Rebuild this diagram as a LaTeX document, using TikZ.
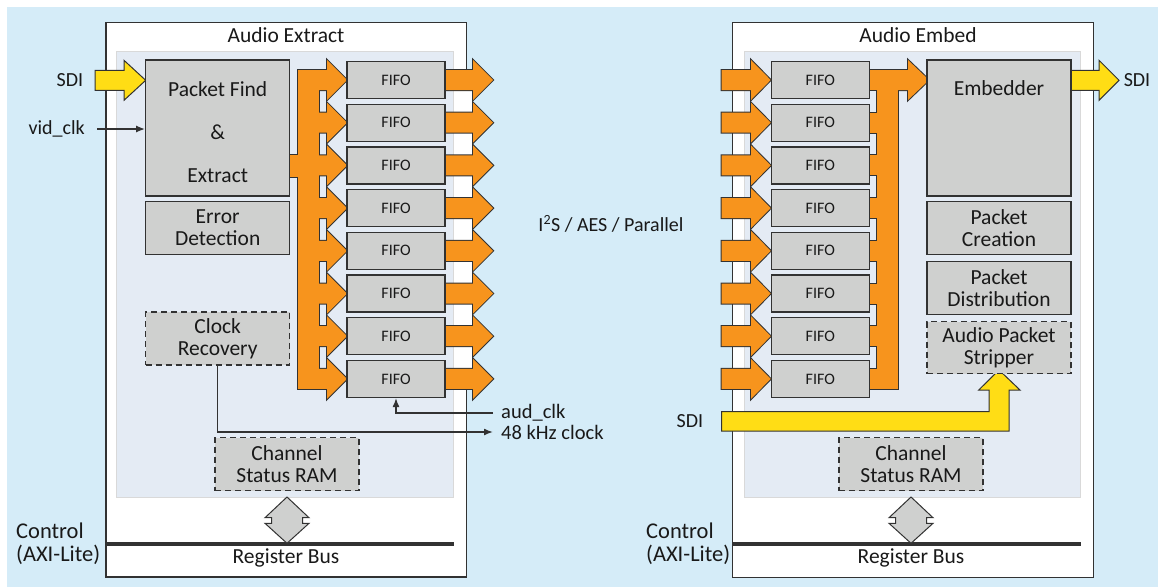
\documentclass[tikz,border=0pt]{standalone}
\usepackage{fontspec}
\setmainfont{Carlito}
\usetikzlibrary{arrows.meta,positioning}
\definecolor{bgblue}{RGB}{213,236,248}
\definecolor{panel}{RGB}{228,235,244}
\definecolor{boxgray}{RGB}{207,208,207}
\definecolor{busorange}{RGB}{247,148,29}
\definecolor{sdiyellow}{RGB}{255,221,21}
\definecolor{edge}{RGB}{50,50,50}

% wide arrow: start x, head x, tip x, centre y
\newcommand\fatarrow[4]{(#1,#4-10) -- (#2,#4-10) -- (#2,#4-20) -- (#3,#4) -- (#2,#4+20) -- (#2,#4+10) -- (#1,#4+10) -- cycle}
% double arrow down to the register bus
\newcommand\regarrow[1]{(#1,497) -- (#1+22,517.7) -- (#1+15.5,517.7) -- (#1+15.5,523.3) -- (#1+22,523.3) -- (#1,543.3) -- (#1-22,523.3) -- (#1-15.5,523.3) -- (#1-15.5,517.7) -- (#1-22,517.7) -- cycle}

\begin{document}
\begin{tikzpicture}[
  x=1pt, y=-1pt,
  blk/.style={rectangle, draw=edge, fill=boxgray, line width=1.2pt, align=center, text=black!90,
    minimum width=144pt, minimum height=53pt, inner sep=1pt, font=\fontsize{21.5}{22}\selectfont},
  dblk/.style={blk, dash pattern=on 6pt off 4pt},
  fifo/.style={blk, minimum width=98pt, minimum height=37pt, font=\fontsize{16}{17}\selectfont},
  lbl/.style={font=\fontsize{20}{23}\selectfont, text=black!90, inner sep=1pt},
  big/.style={lbl, font=\fontsize{21.5}{23}\selectfont},
  clklbl/.style={lbl, font=\fontsize{20.5}{21}\selectfont, anchor=west, inner xsep=8pt, inner ysep=0pt},
  outer/.style={draw=edge, fill=white, line width=1.5pt},
  inner/.style={draw=black!15, fill=panel, line width=1pt},
  busline/.style={draw=edge, line width=2pt, fill=busorange},
  busfill/.style={fill=busorange},
  sdi/.style={draw=edge, line width=1pt, fill=sdiyellow},
  regarr/.style={draw=edge, line width=1pt, fill=boxgray},
  clk/.style={draw=edge, line width=1.5pt, -{Latex[length=9pt,width=7pt]}},
  node distance=4pt
]
\useasboundingbox (0,0) rectangle (1158,587);
\fill[bgblue] (7,7) rectangle (1158,587);

% frames
\path[outer] (106,22.7) rectangle (466.7,577);
\path[inner] (116.7,51.7) rectangle (453,497);
\path[outer] (732.7,22.7) rectangle (1093.3,577.7);
\path[inner] (744.3,51.7) rectangle (1080,497);
\foreach \i in {0,...,6}{
  \pgfmathsetmacro\y{80+42.7*\i}
  \fill[white] (466,\y+10) rectangle (473,\y+32.7);
}

% orange busses, outline first then fill
\foreach \sty in {busline,busfill}{
  \path[\sty] (298,70) rectangle (319,389);
  \path[\sty] (289,155) rectangle (300,177);
  \path[\sty] (877,70) rectangle (898,389);
  \path[\sty] \fatarrow{877}{908}{929}{80};
  \foreach \i in {0,...,7}{
    \pgfmathsetmacro\y{80+42.7*\i}
    \path[\sty] \fatarrow{298}{327}{347}{\y};
    \path[\sty] \fatarrow{445}{473}{493}{\y};
    \path[\sty] \fatarrow{721.7}{751}{770.7}{\y};
    \path[\sty] (869,\y-10) rectangle (879,\y+10);
  }
}

% SDI
\path[sdi] \fatarrow{95}{124}{145.7}{80.3};
\path[sdi] \fatarrow{1070}{1099}{1119}{80.3};
\path[sdi] (721.7,411.7) -- (989,411.7) -- (989,390) -- (978.7,390) -- (999,370) -- (1020,390)
  -- (1009,390) -- (1009,431) -- (721.7,431) -- cycle;

% FIFOs
\foreach \i in {1,...,8}{
  \pgfmathsetmacro\y{80+42.7*(\i-1)}
  \node[fifo] (fifoL\i) at (396,\y) {FIFO};
  \node[fifo] (fifoR\i) at (820.3,\y) {FIFO};
}

% Audio Extract
\node[big] (titleL) at (286,35.5) {Audio Extract};
\node[blk, minimum height=136pt] (pf) at (217.7,128) {};
\node[big, align=center, font=\fontsize{21.5}{43}\selectfont] (pftxt) at ([yshift=-4pt]pf.center) {Packet Find\\\&\\Extract};
\node[blk, below=of pf] (errdet) {Error\\Detection};
\node[dblk] (clkrec) at (217.7,338.5) {Clock\\Recovery};
\node[dblk] (csramL) at (287,464) {Channel\\Status RAM};

% Audio Embed
\node[big] (titleR) at (918,35.5) {Audio Embed};
\node[blk, minimum height=136pt] (embed) at (999,128) {};
\node[big] (embedtxt) at ([yshift=-29pt]embed.north) {Embedder};
\node[blk, below=of embed] (pktcre) {Packet\\Creation};
\node[blk, below=6pt of pktcre] (pktdist) {Packet\\Distribution};
\node[dblk, below=6pt of pktdist, minimum height=52pt] (stripper) {Audio Packet\\Stripper};
\node[dblk] (csramR) at (911,464) {Channel\\Status RAM};

% register busses
\draw[edge, line width=4pt] (106,544.3) -- (454,544.3);
\draw[edge, line width=4pt] (733,544.3) -- (1080.7,544.3);
\path[regarr] \regarrow{287};
\path[regarr] \regarrow{911};
\node[big] (regbusL) at (286,558) {Register Bus};
\node[big] (regbusR) at (911,558) {Register Bus};
\node[lbl, font=\fontsize{22.5}{23}\selectfont, anchor=west, align=left] (ctrlL) at (15,543.5) {Control\\(AXI-Lite)};
\node[lbl, font=\fontsize{22.5}{23}\selectfont, anchor=west, align=left] (ctrlR) at (645,543.5) {Control\\(AXI-Lite)};

% labels and clocks
\node[lbl] (sdiL) at (70,80) {SDI};
\node[lbl] (sdiOut) at (1137,80) {SDI};
\node[lbl] (sdiIn) at (690,421) {SDI};
\node[lbl, anchor=east, inner xsep=12pt] (vidclk) at (97,129) {vid\_clk};
\draw[clk] (vidclk.east) -- (pf.west |- vidclk.east);
\node[clklbl] (audclk) at (493,413) {aud\_clk};
\node[clklbl] (khz) at (493,432) {48 kHz clock};
\draw[clk] (audclk.west) -| (fifoL8.south);
\draw[clk] (clkrec.south) |- (khz.west);
\node[lbl] (i2s) at (611,224) {I\textsuperscript{2}S / AES / Parallel};
\end{tikzpicture}
\end{document}
